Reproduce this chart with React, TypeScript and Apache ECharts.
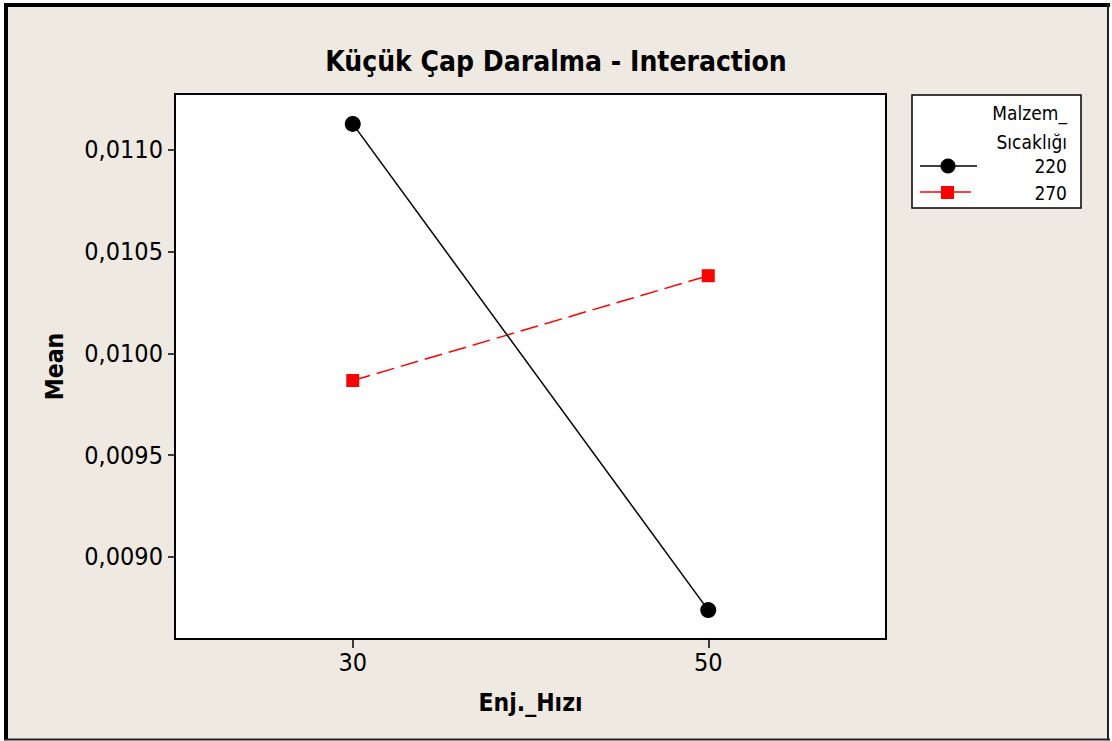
import React, { useEffect, useRef } from "react";
import * as echarts from "echarts";

const TITLE = "Küçük Çap Daralma - Interaction";
const X_NAME = "Enj._Hızı";
const Y_NAME = "Mean";
const LEGEND_TITLE = ["Malzem_", "Sıcaklığı"];
const X_VALUES = [30, 50];
const SERIES_NAMES = ["220", "270"];
const SERIES_220 = [0.011128, 0.008739];
const SERIES_270 = [0.009867, 0.010382];
const Y_TICKS = [0.009, 0.0095, 0.01, 0.0105, 0.011];
const X_TICKS = [30, 50];

const FONT = "Tahoma, 'DejaVu Sans Condensed', 'DejaVu Sans', sans-serif";

export default function App() {
  const ref = useRef<HTMLDivElement>(null);
  useEffect(() => {
    if (!ref.current) return;
    const chart = echarts.init(ref.current, null, { renderer: "svg" });
    const lx = 912, ly = 95, lw = 169, lh = 113;
    chart.setOption({
      animation: false,
      backgroundColor: "#ffffff",
      title: {
        text: TITLE,
        left: "center",
        top: 42,
        textStyle: { fontFamily: FONT, fontWeight: "bold", fontSize: 28, color: "#000" },
      },
      grid: {
        left: 175,
        top: 94,
        width: 711,
        height: 545,
        show: true,
        backgroundColor: "#ffffff",
        borderColor: "#000",
        borderWidth: 2,
        containLabel: false,
      },
      xAxis: {
        type: "value",
        min: 20,
        max: 60,
        name: X_NAME,
        nameLocation: "middle",
        nameGap: 51,
        nameTextStyle: { fontFamily: FONT, fontWeight: "bold", fontSize: 24.5, color: "#000" },
        axisLine: { show: false },
        splitLine: { show: false },
        axisTick: { show: true, customValues: X_TICKS, length: 9, lineStyle: { color: "#000", width: 1.5 } },
        axisLabel: {
          customValues: X_TICKS,
          fontFamily: FONT,
          fontSize: 25,
          color: "#000",
          margin: 11,
        },
      },
      yAxis: {
        type: "value",
        min: 0.008597,
        max: 0.011275,
        name: Y_NAME,
        nameLocation: "middle",
        nameGap: 108,
        nameRotate: 90,
        nameTextStyle: { fontFamily: FONT, fontWeight: "bold", fontSize: 24.5, color: "#000" },
        axisLine: { show: false },
        splitLine: { show: false },
        axisTick: { show: true, customValues: Y_TICKS, length: 7, lineStyle: { color: "#000", width: 1.5 } },
        axisLabel: {
          customValues: Y_TICKS,
          fontFamily: FONT,
          fontSize: 25,
          color: "#000",
          margin: 12,
          formatter: (v: number) => v.toFixed(4).replace(".", ","),
        },
      },
      series: [
        {
          name: SERIES_NAMES[0],
          type: "line",
          data: X_VALUES.map((x, i) => [x, SERIES_220[i]]),
          symbol: "circle",
          symbolSize: 16,
          lineStyle: { color: "#000", width: 1.5, type: "solid" },
          itemStyle: { color: "#000" },
          z: 3,
        },
        {
          name: SERIES_NAMES[1],
          type: "line",
          data: X_VALUES.map((x, i) => [x, SERIES_270[i]]),
          symbol: "rect",
          symbolSize: 13,
          lineStyle: { color: "#ff0000", width: 1.5, type: [18, 7] },
          itemStyle: { color: "#ff0000" },
          z: 2,
        },
      ],
      graphic: [
        { type: "rect", z: -10, shape: { x: 4, y: 4, width: 1105, height: 736 }, style: { fill: "#eeeae1" } },
        { type: "line", z: 100, shape: { x1: 6, y1: 3, x2: 6, y2: 740 }, style: { stroke: "#000", lineWidth: 4 } },
        { type: "line", z: 100, shape: { x1: 4, y1: 5, x2: 1110, y2: 5 }, style: { stroke: "#000", lineWidth: 4 } },
        { type: "line", z: 100, shape: { x1: 1108, y1: 4, x2: 1108, y2: 740 }, style: { stroke: "#222", lineWidth: 2 } },
        { type: "line", z: 100, shape: { x1: 4, y1: 739.5, x2: 1110, y2: 739.5 }, style: { stroke: "#222", lineWidth: 2 } },
        { type: "rect", z: 10, shape: { x: lx, y: ly, width: lw, height: lh }, style: { fill: "#fff", stroke: "#000", lineWidth: 1.5 } },
        {
          type: "text", z: 11, x: 1067, y: 113,
          style: { text: LEGEND_TITLE[0], align: "right", verticalAlign: "middle", fontFamily: FONT, fontSize: 19, fill: "#000" },
        },
        {
          type: "text", z: 11, x: 1067, y: 142,
          style: { text: LEGEND_TITLE[1], align: "right", verticalAlign: "middle", fontFamily: FONT, fontSize: 19, fill: "#000" },
        },
        { type: "line", z: 11, shape: { x1: 920, y1: 166, x2: 977, y2: 166 }, style: { stroke: "#000", lineWidth: 1.5 } },
        { type: "circle", z: 12, shape: { cx: 948, cy: 166, r: 7.5 }, style: { fill: "#000" } },
        {
          type: "text", z: 11, x: 1067, y: 166,
          style: { text: SERIES_NAMES[0], align: "right", verticalAlign: "middle", fontFamily: FONT, fontSize: 19, fill: "#000" },
        },
        { type: "line", z: 11, shape: { x1: 920, y1: 192, x2: 971, y2: 192 }, style: { stroke: "#ff0000", lineWidth: 1.5 } },
        { type: "rect", z: 12, shape: { x: 941, y: 186, width: 13, height: 13 }, style: { fill: "#ff0000" } },
        {
          type: "text", z: 11, x: 1067, y: 193,
          style: { text: SERIES_NAMES[1], align: "right", verticalAlign: "middle", fontFamily: FONT, fontSize: 19, fill: "#000" },
        },
      ],
    });
    return () => chart.dispose();
  }, []);
  return (
    <div
      ref={ref}
      style={{ position: "fixed", left: 0, top: 0, width: 1112, height: 741 }}
    />
  );
}
